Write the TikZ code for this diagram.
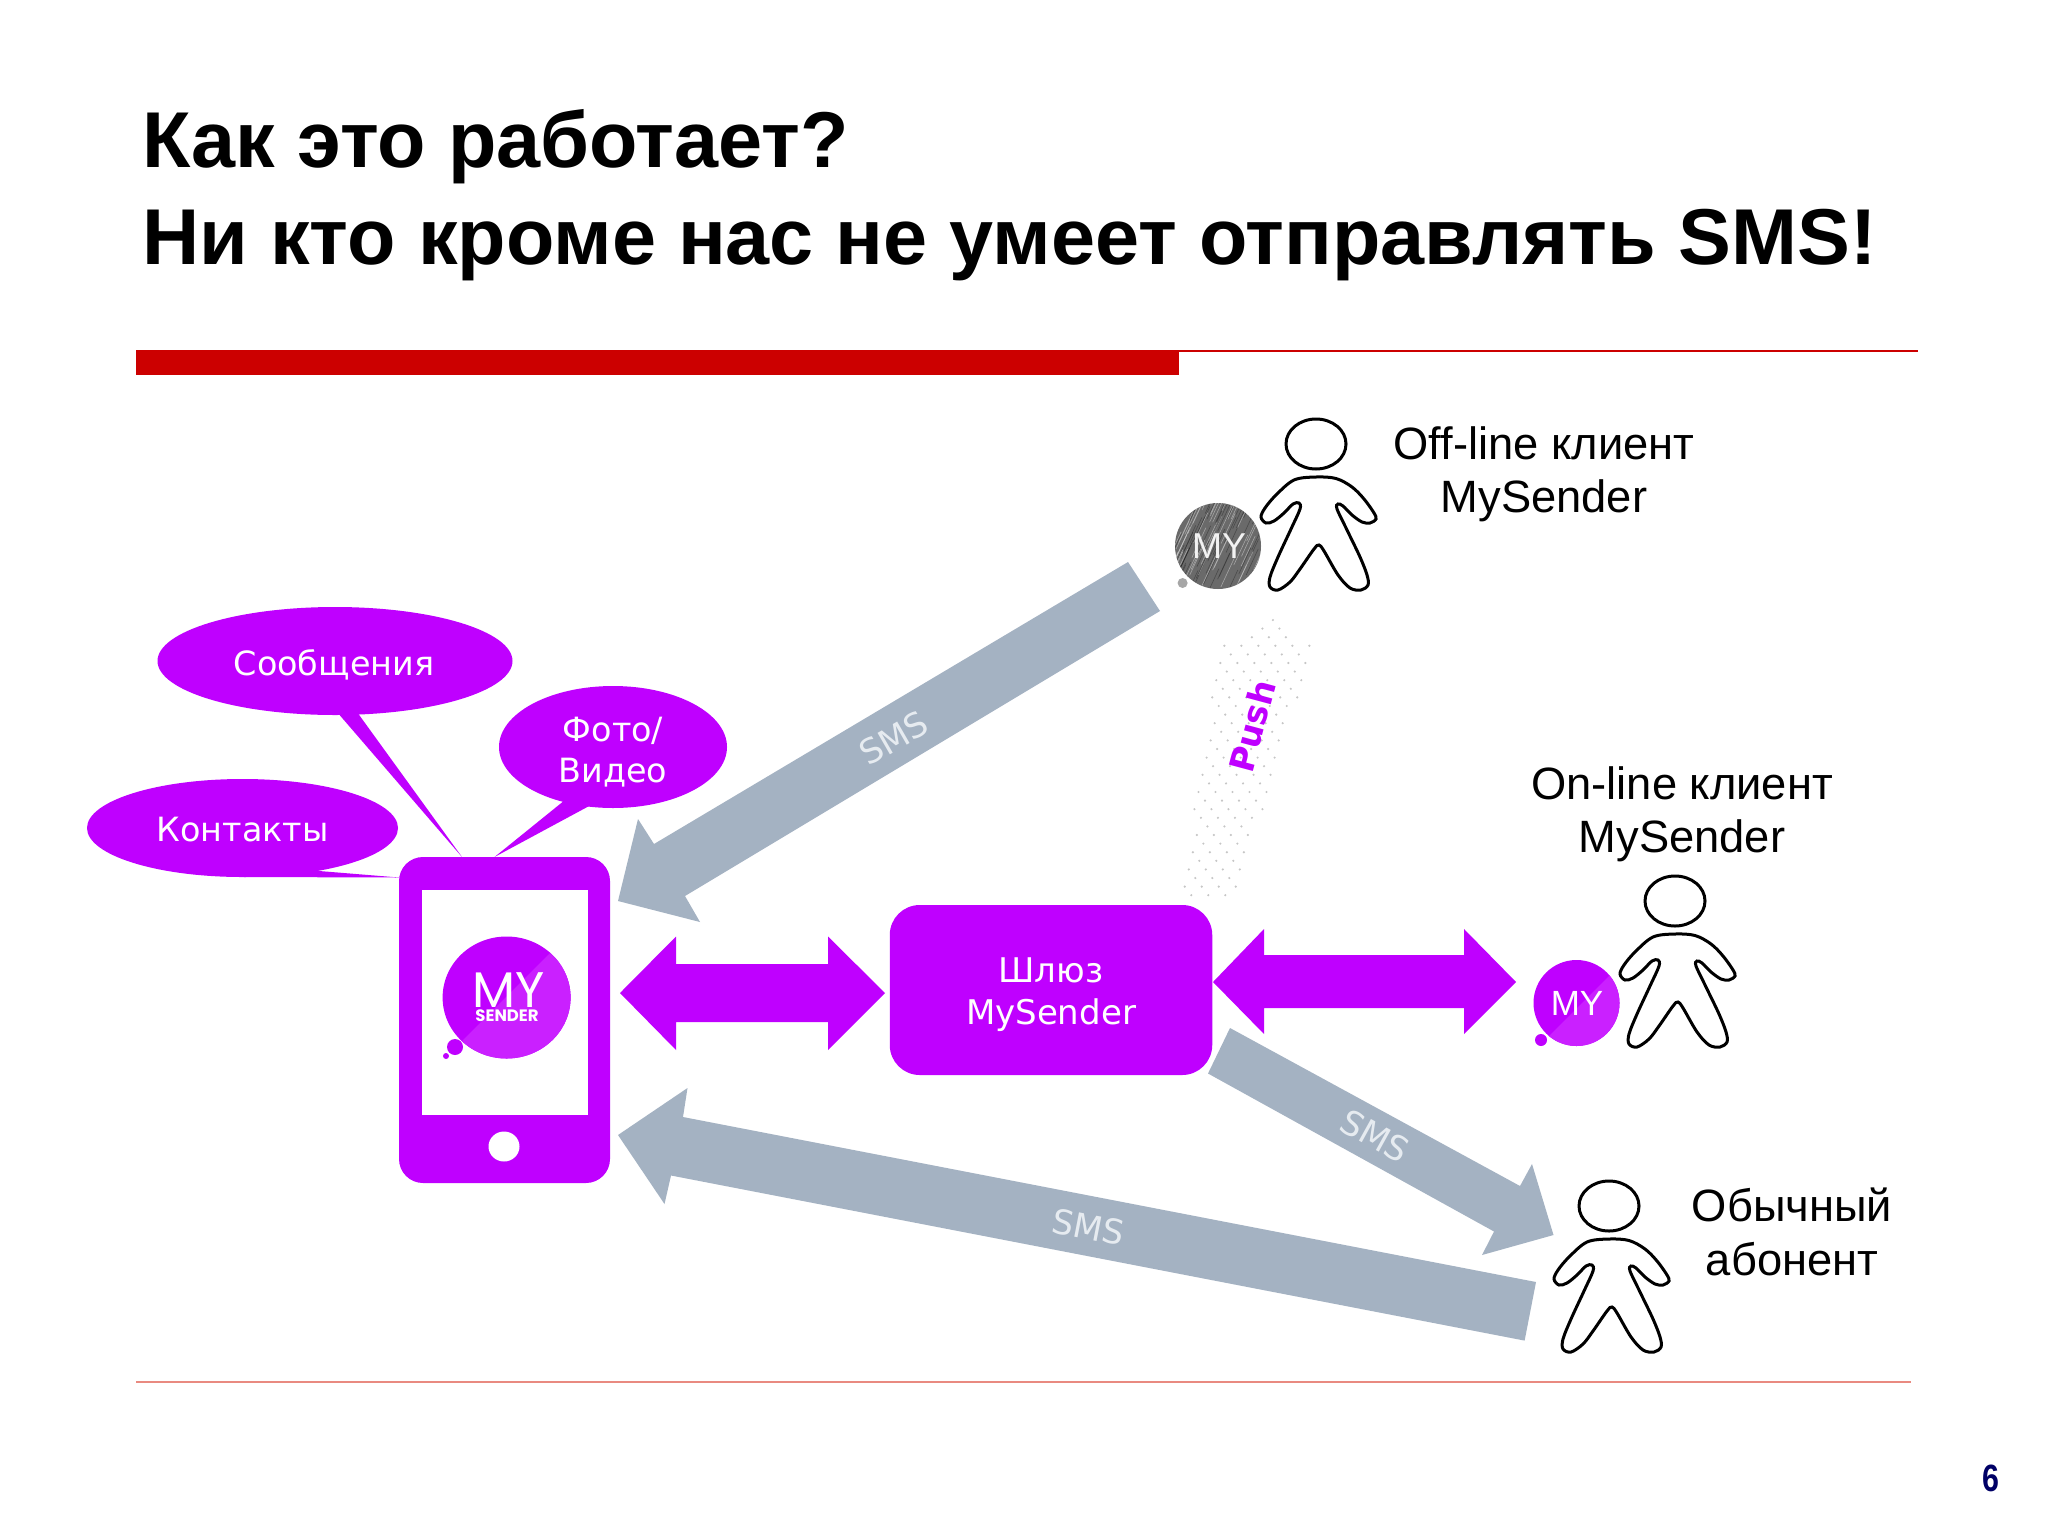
\documentclass[tikz,border=0pt]{standalone}
\usepackage{fontspec}
\setmainfont{Liberation Sans}
\newfontfamily\fdv{DejaVu Sans}
\newfontfamily\fpop{Poppins}
\newcommand{\setpx}[1]{\fontsize{\dimexpr #1pt/2\relax}{\dimexpr #1pt/2\relax}\selectfont}
\definecolor{mypurple}{HTML}{BF00FF}
\definecolor{mylight}{HTML}{CA20FF}
\definecolor{smsgray}{HTML}{A4B2C2}
\definecolor{smstext}{HTML}{E6EBF0}
\definecolor{redbar}{HTML}{CC0000}
\definecolor{thinred}{HTML}{E98A80}
\definecolor{navy6}{HTML}{000066}
\definecolor{badgegray}{HTML}{6A6A6A}
\tikzset{
  block/.style={fill=mypurple,draw=none},
  grayarrow/.style={fill=smsgray,draw=none},
  title/.style={anchor=base west,inner sep=0pt,font=\bfseries\setpx{79.2}},
  bubbletext/.style={inner sep=0pt,text=white,font=\fdv\setpx{33.4},align=center},
  smslabel/.style={inner sep=0pt,text=smstext,font=\fdv\setpx{34}},
  who/.style={inner sep=0pt,align=center,font=\setpx{45.3}},
  figure/.style={draw=black,line width=1.5pt,fill=white},
}
\newcommand{\personfig}[2]{%
  \begin{scope}[shift={(#1,#2)}]
    \draw[figure] (0,0) ellipse [x radius=30,y radius=25];
    \draw[figure] plot[smooth cycle,tension=0.55] coordinates {(0,33)(20,34.5)(36,43)(48,55)(58,69)(60,75)(54,79)(46,78)(36,71)(27,62)(22,60)(21,65)(31,86)(44,113)(51,131)(52,141)(45,146)(34,144)(22,131)(8,107)(3,101)(-2,105)(-16,125)(-26,138)(-38,146)(-46,143)(-46,133)(-38,113)(-25,85)(-16,65)(-17,59)(-23,60)(-32,69)(-42,77)(-50,79)(-55,73)(-51,64)(-40,51)(-22,36)};
  \end{scope}}
\begin{document}
\begin{tikzpicture}[x=0.5pt,y=-0.5pt]
\useasboundingbox[fill=white] (0,0) rectangle (2048,1536);
% title
\node[title] (t1) at (142,167) {Как это работает?};
\node[title] (t2) at (142,264) {Ни кто кроме нас не умеет отправлять SMS!};
% rules
\fill[redbar] (136,350) rectangle (1179,375);
\draw[redbar,line width=0.8pt] (1179,351) -- (1918,351);
\draw[thinred,line width=0.6pt] (136,1382) -- (1911,1382);
% dots
\foreach \r in {0,...,32}{
  \pgfmathsetmacro\yy{620+8.6*\r}
  \pgfmathsetmacro\cx{1209+(892-\yy)*0.235}
  \pgfmathsetmacro\hw{min(10+(\yy-620)*1.3,44)-max(0,(\yy-680)*0.07)}
  \foreach \k in {-3,...,3}{
    \pgfmathsetmacro\off{17*\k+8.5*mod(\r,2)}
    \pgfmathtruncatemacro\dshow{abs(\off)<=\hw}
    \ifnum\dshow=1 \fill[gray!45] (\cx+\off,\yy) circle (0.6pt);\fi
  }
}
% speech bubbles
\fill[block] (335,661) ellipse [x radius=177.5,y radius=54];
\fill[block] (337,712) -- (357,712) -- (462,857) -- cycle;
\fill[block] (613,747) ellipse [x radius=114,y radius=61];
\fill[block] (565,800) -- (591,805) -- (494.5,857) -- cycle;
\fill[block] (242.5,828) ellipse [x radius=155.5,y radius=49];
\fill[block] (307,870) -- (244,875) -- (244,877) -- (399,877.5) -- cycle;
\node[bubbletext] (msg) at (334,665) {Сообщения};
\node[bubbletext] (photo) at (613,752) {Фото/\\[4pt]Видео};
\node[bubbletext] (cont) at (242.5,830) {Контакты};
% phone
\fill[block,rounded corners=12pt] (399,857) rectangle (610,1183);
\fill[white] (422,890) rectangle (588,1115);
\fill[white] (504,1146.5) ellipse [x radius=15.5,y radius=15];
\fill[mypurple] (506.6,997.5) ellipse [x radius=64,y radius=61];
\begin{scope}
  \clip (506.6,997.5) ellipse [x radius=64,y radius=61];
  \fill[mylight] (600,903) -- (600,1070) -- (433,1070) -- cycle;
\end{scope}
\fill[mypurple] (455,1047) circle (4pt);
\fill[mypurple] (446,1056) circle (1.5pt);
\node[inner sep=0pt,text=white,font=\fpop\setpx{50}] (logoa) at (509,990) {MY};
\node[inner sep=0pt,text=white,font=\fpop\bfseries\setpx{16.5}] (logob) at (507,1016) {SENDER};
% gateway
\node[block,rounded corners=15pt,minimum width=161.25pt,minimum height=85pt,inner sep=0pt] (gate) at (1051,990) {};
\node[inner sep=0pt,text=white,align=center,font=\fdv\setpx{34}] (gatetext) at (1051,995) {Шлюз\\[4pt]MySender};
% purple arrows
\fill[block] (620,993) -- (676,936.5) -- (676,964) -- (828,964) -- (828,936.5) -- (885,993) -- (828,1050) -- (828,1022) -- (676,1022) -- (676,1050) -- cycle;
\fill[block] (1213,982) -- (1264,929) -- (1264,955) -- (1464,955) -- (1464,929) -- (1516,982) -- (1464,1034) -- (1464,1008) -- (1264,1008) -- (1264,1034) -- cycle;
% gray arrows
\fill[grayarrow] (618,901) -- (638,819) -- (654,844) -- (1128,562) -- (1160,611) -- (685,896) -- (700,922) -- cycle;
\fill[grayarrow] (1553.5,1235) -- (1532,1164) -- (1520,1186) -- (1230,1028) -- (1208,1073.5) -- (1494,1231.5) -- (1482,1255) -- cycle;
\fill[grayarrow] (618,1135) -- (687.5,1088) -- (683,1117) -- (1536,1282) -- (1524.6,1340.6) -- (671,1175.5) -- (664.5,1204) -- cycle;
\node[smslabel,rotate=30] (sms1) at (894,738) {SMS};
\node[smslabel,rotate=-29] (sms2) at (1375,1136) {SMS};
\node[smslabel,rotate=-11] (sms3) at (1088,1227) {SMS};
% push
\node[inner sep=0pt,text=mypurple,font=\fdv\bfseries\setpx{34},rotate=75] (push) at (1252,726) {Push};
% persons
\personfig{1316}{444}
\personfig{1675}{901}
\personfig{1609}{1206}
% gray badge
\fill[badgegray] (1218,546) circle (21.5pt);
\begin{scope}
  \clip (1218,546) circle (21.5pt);
  \pgfmathsetseed{7}
  \foreach \i in {1,...,70}{
    \pgfmathsetmacro\a{1160+rnd*120}
    \pgfmathsetmacro\b{500+rnd*90}
    \draw[gray!40,line width=0.3pt,opacity=0.6] (\a,\b) -- ++(14,-30);
    \draw[black,line width=0.3pt,opacity=0.3] (\a+5,\b+9) -- ++(12,-26);
  }
\end{scope}
\fill[gray!70] (1182.6,583) circle (2.5pt);
\node[inner sep=0pt,text=white!90!gray,font=\setpx{36}] (my1) at (1219,546) {MY};
% purple badge
\fill[mypurple] (1576.5,1003) circle (21.5pt);
\begin{scope}
  \clip (1576.5,1003) circle (21.5pt);
  \fill[mylight] (1640,945) -- (1640,1060) -- (1525,1060) -- cycle;
\end{scope}
\fill[mypurple] (1541,1040) circle (3pt);
\node[inner sep=0pt,text=white,font=\setpx{35}] (my2) at (1577,1003) {MY};
% captions
\node[who] (off) at (1544,474) {Off-line клиент\\[4pt]MySender};
\node[who] (on) at (1682,814) {On-line клиент\\[4pt]MySender};
\node[who] (plain) at (1792,1232) {Обычный\\[4pt]абонент};
\node[inner sep=0pt,text=navy6,font=\bfseries\setpx{38}] (num) at (1991,1478) {\scalebox{0.8}[1]{6}};
\end{tikzpicture}
\end{document}
